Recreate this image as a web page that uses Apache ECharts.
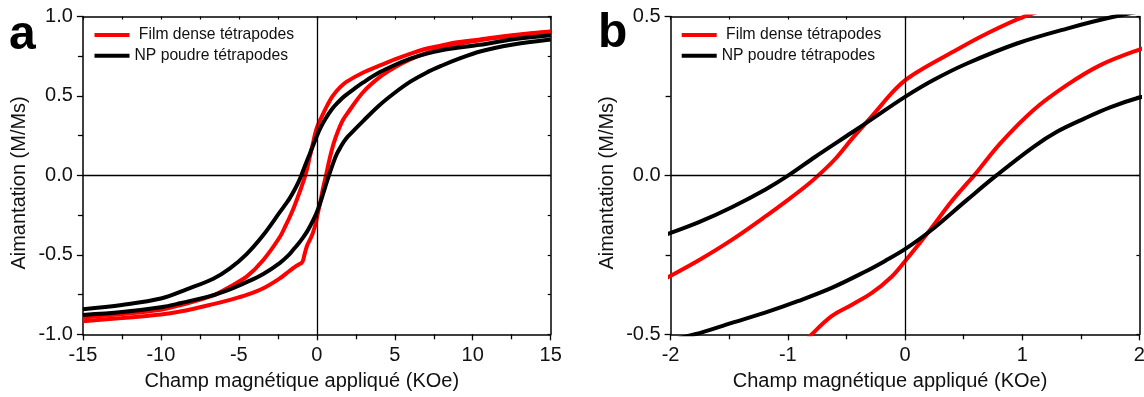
<!DOCTYPE html>
<html>
<head>
<meta charset="utf-8">
<script src="https://cdn.jsdelivr.net/npm/echarts@6/dist/echarts.min.js"></script>
<style>html,body{margin:0;padding:0;background:#fff}#c{width:1144px;height:397px}</style>
</head>
<body>
<div id="c"></div>
<script>
// ---- tick values ----
const fieldTicksA = [-15, -10, -5, 0, 5, 10, 15];
const magTicksA = [-1, -0.5, 0, 0.5, 1];
const fieldTicksB = [-2, -1, 0, 1, 2];
const magTicksB = [-0.5, 0, 0.5];

// ---- series names ----
const filmName = 'Film dense tétrapodes';
const npName = 'NP poudre tétrapodes';

// ---- Film dense: descending branch (field KOe, M/Ms) ----
const filmDescX = [-15, -12.5, -10, -8.77, -6.64, -5.57, -4.5, -3.43, -2.36, -2, -1.763, -1.478, -1.194, -0.966, -0.85, -0.739, -0.6, -0.453, -0.312, -0.2, -0.112, 0, 0.13, 0.386, 0.67, 1.012, 1.5, 1.92, 2.98, 4.05, 5, 5.98, 7, 8, 9, 10.47, 12.5, 15];
const filmDescM = [-0.895, -0.873, -0.845, -0.817, -0.755, -0.70, -0.637, -0.532, -0.386, -0.316, -0.268, -0.203, -0.13, -0.068, -0.035, 0, 0.05, 0.115, 0.174, 0.222, 0.26, 0.299, 0.331, 0.384, 0.441, 0.499, 0.555, 0.59, 0.648, 0.692, 0.73, 0.765, 0.797, 0.818, 0.838, 0.856, 0.882, 0.906];

// ---- Film dense: ascending branch ----
const filmAscX = [-15, -12.5, -10, -8.77, -6.64, -5.57, -4.5, -3.43, -2.36, -1.8, -1.4, -1.15, -1.0, -0.88, -0.795, -0.626, -0.453, -0.283, -0.112, 0, 0.215, 0.386, 0.529, 0.59, 0.813, 1.097, 1.38, 1.667, 2.0, 2.98, 4.05, 5, 5.98, 7, 8, 9, 10.47, 12.5, 15];
const filmAscM = [-0.918, -0.898, -0.876, -0.857, -0.81, -0.783, -0.752, -0.71, -0.647, -0.605, -0.575, -0.56, -0.553, -0.535, -0.5, -0.443, -0.407, -0.37, -0.318, -0.27, -0.171, -0.087, -0.025, 0, 0.101, 0.206, 0.284, 0.347, 0.396, 0.525, 0.62, 0.68, 0.73, 0.77, 0.80, 0.825, 0.85, 0.878, 0.904];

// ---- NP poudre: descending branch ----
const npDescX = [-15, -12.5, -10, -8.35, -6.64, -5.57, -4.5, -3.43, -2.36, -2, -1.763, -1.478, -1.194, -0.995, -0.768, -0.453, -0.283, 0, 0.243, 0.529, 0.955, 1.383, 1.78, 2.4, 2.98, 4.05, 5, 6, 7, 8, 9, 10.47, 12.5, 15];
const npDescM = [-0.842, -0.815, -0.775, -0.717, -0.65, -0.585, -0.495, -0.375, -0.23, -0.181, -0.148, -0.1, -0.045, 0, 0.058, 0.135, 0.177, 0.247, 0.30, 0.352, 0.415, 0.462, 0.499, 0.545, 0.585, 0.65, 0.695, 0.735, 0.765, 0.788, 0.803, 0.822, 0.855, 0.882];

// ---- NP poudre: ascending branch ----
const npAscX = [-15, -12.5, -10, -8.77, -6.85, -5.57, -4.5, -3.43, -2.36, -1.792, -1.478, -1.194, -0.909, -0.626, -0.341, -0.17, 0, 0.215, 0.529, 0.78, 1.097, 1.3, 1.525, 1.75, 2.0, 3, 4, 5, 6, 7, 8, 9, 10.47, 12.5, 15];
const npAscM = [-0.878, -0.86, -0.83, -0.805, -0.76, -0.717, -0.672, -0.62, -0.55, -0.5, -0.464, -0.432, -0.395, -0.354, -0.303, -0.269, -0.232, -0.175, -0.077, 0, 0.09, 0.138, 0.178, 0.214, 0.245, 0.345, 0.44, 0.52, 0.59, 0.645, 0.69, 0.73, 0.78, 0.822, 0.855];

const FONT = '"Liberation Sans", Arial, sans-serif';
const TXT = '#111';

function range(t) { return { min: t[0], max: t[t.length - 1], interval: t[1] - t[0] }; }

function mainX(gi, ticks) {
  return Object.assign({
    gridIndex: gi, type: 'value', position: 'bottom',
    axisLine: { show: true, onZero: false, lineStyle: { color: '#000', width: 1.5 } },
    axisTick: { show: true, inside: false, length: 6, lineStyle: { color: '#000', width: 1.3 } },
    minorTick: { show: true, splitNumber: 2, length: 5, lineStyle: { color: '#000', width: 1.3 } },
    splitLine: { show: false }, minorSplitLine: { show: false },
    axisLabel: { margin: 11, fontSize: 20, fontFamily: FONT, color: TXT, showMinLabel: true, showMaxLabel: true, hideOverlap: false,
      formatter: v => String(v) },
    name: 'Champ magnétique appliqué (KOe)', nameLocation: 'middle', nameGap: 37,
    nameTextStyle: { fontSize: 20, fontFamily: FONT, color: TXT, padding: [0, 30, 0, 0] }
  }, range(ticks));
}
function mirrorX(gi, ticks) {
  return Object.assign({
    gridIndex: gi, type: 'value', position: 'top',
    axisLine: { show: true, onZero: false, lineStyle: { color: '#000', width: 1.5 } },
    axisTick: { show: true, inside: true, length: 3, lineStyle: { color: '#000', width: 1.2 } },
    minorTick: { show: true, splitNumber: 2, length: 3, lineStyle: { color: '#000', width: 1.2 } },
    splitLine: { show: false }, minorSplitLine: { show: false },
    axisLabel: { show: false }
  }, range(ticks));
}
function mainY(gi, ticks) {
  return Object.assign({
    gridIndex: gi, type: 'value', position: 'left',
    axisLine: { show: true, onZero: false, lineStyle: { color: '#000', width: 1.5 } },
    axisTick: { show: true, inside: false, length: 6, lineStyle: { color: '#000', width: 1.3 } },
    minorTick: { show: true, splitNumber: 2, length: 5, lineStyle: { color: '#000', width: 1.3 } },
    splitLine: { show: false }, minorSplitLine: { show: false },
    axisLabel: { margin: 10, fontSize: 20, fontFamily: FONT, color: TXT, showMinLabel: true, showMaxLabel: true, hideOverlap: false,
      formatter: v => v.toFixed(1) },
    name: 'Aimantation (M/Ms)', nameLocation: 'middle', nameGap: 53,
    nameTextStyle: { fontSize: 20, fontFamily: FONT, color: TXT, padding: [0, 15, 0, 0] }
  }, range(ticks));
}
function mirrorY(gi, ticks) {
  return Object.assign({
    gridIndex: gi, type: 'value', position: 'right',
    axisLine: { show: true, onZero: false, lineStyle: { color: '#000', width: 1.5 } },
    axisTick: { show: true, inside: true, length: 3, lineStyle: { color: '#000', width: 1.2 } },
    minorTick: { show: true, splitNumber: 2, length: 3, lineStyle: { color: '#000', width: 1.2 } },
    splitLine: { show: false }, minorSplitLine: { show: false },
    axisLabel: { show: false }
  }, range(ticks));
}

function pairs(xs, ms) { return xs.map((x, i) => [x, ms[i]]); }

function mkSeries(name, color, xs, ms, gi, withZero) {
  const s = {
    type: 'line', name: name, xAxisIndex: gi * 2, yAxisIndex: gi * 2,
    data: pairs(xs, ms), showSymbol: false, symbol: 'none',
    smooth: 0.35, clip: true, animation: false,
    lineStyle: { color: color, width: 4 }, itemStyle: { color: color },
    emphasis: { disabled: true }
  };
  if (withZero) {
    s.markLine = {
      silent: true, symbol: ['none', 'none'], label: { show: false }, animation: false,
      lineStyle: { color: '#000', width: 1.3, type: 'solid' },
      emphasis: { disabled: true },
      data: [{ xAxis: 0 }, { yAxis: 0 }]
    };
  }
  return s;
}

function panelSeries(gi) {
  return [
    mkSeries(filmName, '#ff0000', filmDescX, filmDescM, gi, true),
    mkSeries(filmName, '#ff0000', filmAscX, filmAscM, gi, false),
    mkSeries(npName, '#000000', npDescX, npDescM, gi, false),
    mkSeries(npName, '#000000', npAscX, npAscM, gi, false)
  ];
}

function mkLegend(left) {
  return {
    left: left, top: 27, orient: 'vertical', padding: 0,
    icon: 'rect', itemWidth: 35, itemHeight: 4, itemGap: 4.7,
    selectedMode: false,
    data: [filmName, npName],
    formatter: n => (n === filmName ? ' ' + n : n),
    textStyle: { fontSize: 15.7, fontFamily: FONT, color: TXT, lineHeight: 16 }
  };
}

const chart = echarts.init(document.getElementById('c'), null, { renderer: 'canvas' });
chart.setOption({
  animation: false,
  backgroundColor: '#fff',
  grid: [
    { left: 82.9, right: 593.3, top: 16.5, bottom: 62.7, containLabel: false, outerBoundsMode: 'none' },
    { left: 670.6, right: 4.6, top: 16.5, bottom: 62.7, containLabel: false, outerBoundsMode: 'none' }
  ],
  xAxis: [mainX(0, fieldTicksA), mirrorX(0, fieldTicksA), mainX(1, fieldTicksB), mirrorX(1, fieldTicksB)],
  yAxis: [mainY(0, magTicksA), mirrorY(0, magTicksA), mainY(1, magTicksB), mirrorY(1, magTicksB)],
  legend: [mkLegend(94.5), mkLegend(681.7)],
  graphic: [
    { type: 'text', x: 9, y: 35.4, style: { text: 'a', font: 'bold 48px "Liberation Sans", Arial, sans-serif', fill: '#000', verticalAlign: 'middle', textVerticalAlign: 'middle' } },
    { type: 'text', x: 598, y: 33.4, style: { text: 'b', font: 'bold 48px "Liberation Sans", Arial, sans-serif', fill: '#000', verticalAlign: 'middle', textVerticalAlign: 'middle' } }
  ],
  series: panelSeries(0).concat(panelSeries(1))
});
</script>
</body>
</html>
